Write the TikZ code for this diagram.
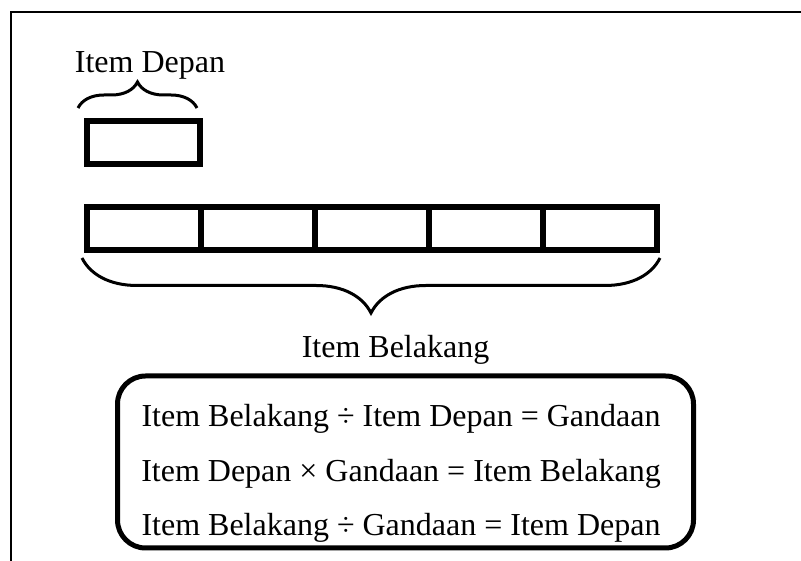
\documentclass[tikz,border=0pt]{standalone}
\usepackage{fontspec}
\setmainfont{Liberation Serif}
\usetikzlibrary{decorations.pathreplacing,calc}
\begin{document}
\begin{tikzpicture}[x=1pt,y=1pt,
  cell/.style={draw, line width=6pt, minimum width=114pt, minimum height=43pt, inner sep=0pt},
  brc/.style={decorate, line width=3pt},
  lbl/.style={font=\fontsize{32}{38}\selectfont, inner sep=0pt, anchor=base},
  relbox/.style={draw, line width=5pt, rounded corners=28pt, minimum width=576pt, minimum height=172pt, inner sep=0pt}
]
\useasboundingbox (0,0) rectangle (801,561);
% frame
\draw[line width=2pt] (11,0) -- (11,549) -- (801,549);

% single front item
\node[cell, minimum width=113pt] (front) at (143.5,418.5) {};
\draw[brc, decoration={brace, amplitude=26pt}]
  ($(front.north west)+(-6,10)$) -- ($(front.north east)+(-6,10)$);
\node[lbl] (fronttxt) at (150,488) {Item Depan};

% row of back items
\foreach \i/\x in {1/144,2/258,3/372,4/486,5/600}
  \node[cell] (c\i) at (\x,332.5) {};
\draw[brc, decoration={brace, mirror, amplitude=55pt}]
  ($(c1.south west)+(-2,-5)$) -- ($(c5.south east)+(0,-5)$);
\node[lbl] (backtxt) at (395.5,203) {Item Belakang};

% relations
\node[relbox] (rel) at (405.5,99) {};
\node[lbl] (r1) at (401,134) {Item Belakang ÷ Item Depan = Gandaan};
\node[lbl] (r2) at (401,79) {Item Depan × Gandaan = Item Belakang};
\node[lbl] (r3) at (401,25) {Item Belakang ÷ Gandaan = Item Depan};
\end{tikzpicture}
\end{document}
